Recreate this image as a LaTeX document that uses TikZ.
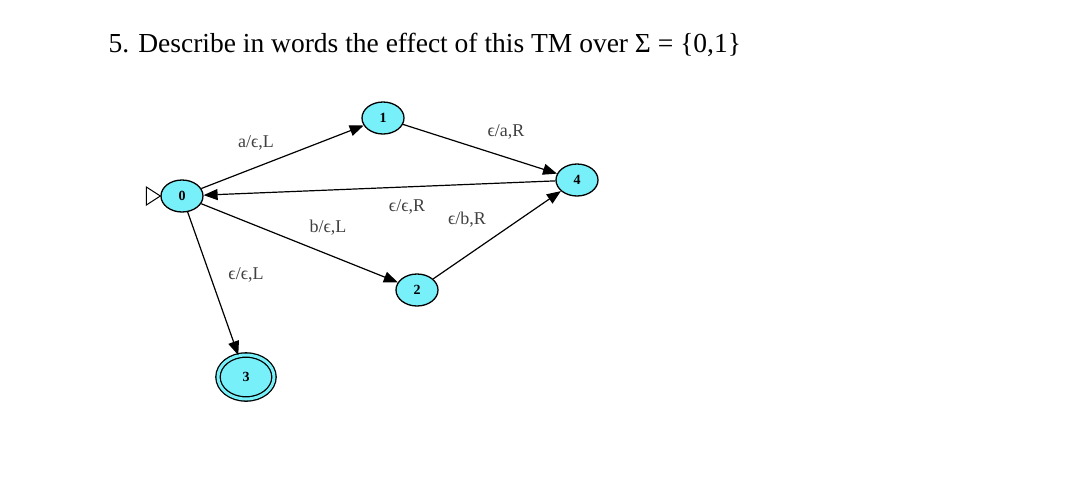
\documentclass[tikz,border=0pt]{standalone}
\usepackage{fontspec}
\setmainfont{Liberation Serif}
\usetikzlibrary{shapes.geometric,arrows.meta}
\definecolor{aqua}{RGB}{120,240,250}
\begin{document}
\begin{tikzpicture}[x=1pt,y=-1pt,
  st/.style={ellipse,draw,fill=aqua,line width=1.3pt,minimum width=42pt,minimum height=32pt,inner sep=0pt,font=\fontsize{14}{14}\selectfont\bfseries},
  acc/.style={st,double=aqua,double distance=3pt,minimum width=56pt,minimum height=44pt},
  tr/.style={-{Triangle[length=14pt,width=11pt]},line width=1.2pt},
  lab/.style={font=\fontsize{18}{18}\selectfont,text=black!75}]
\useasboundingbox (0,0) rectangle (1078,483);
\node[anchor=base west,font=\fontsize{27.5}{27.5}\selectfont] (title) at (105,52) {5. Describe in words the effect of this TM over Σ = \{0,1\}};
\node[st] (q0) at (182,196) {0};
\node[st] (q1) at (383,118) {1};
\node[st] (q4) at (577,180) {4};
\node[st] (q2) at (417,290) {2};
\node[acc] (q3) at (246,377) {3};
\draw[line width=1pt] (q0.west) -- ++(-14,-9) -- ++(0,18) -- cycle;
\draw[tr] (q0) -- (q1);
\draw[tr] (q1) -- (q4);
\draw[tr] (q4) -- (q0);
\draw[tr] (q0) -- (q2);
\draw[tr] (q2) -- (q4);
\draw[tr] (q0) -- (q3);
\node[lab] (l01) at (256,143) {a/ϵ,L};
\node[lab] (l14) at (506,132) {ϵ/a,R};
\node[lab] (l40) at (407,207) {ϵ/ϵ,R};
\node[lab] (l02) at (328,228) {b/ϵ,L};
\node[lab] (l24) at (467,220) {ϵ/b,R};
\node[lab] (l03) at (246,275) {ϵ/ϵ,L};
\end{tikzpicture}
\end{document}
